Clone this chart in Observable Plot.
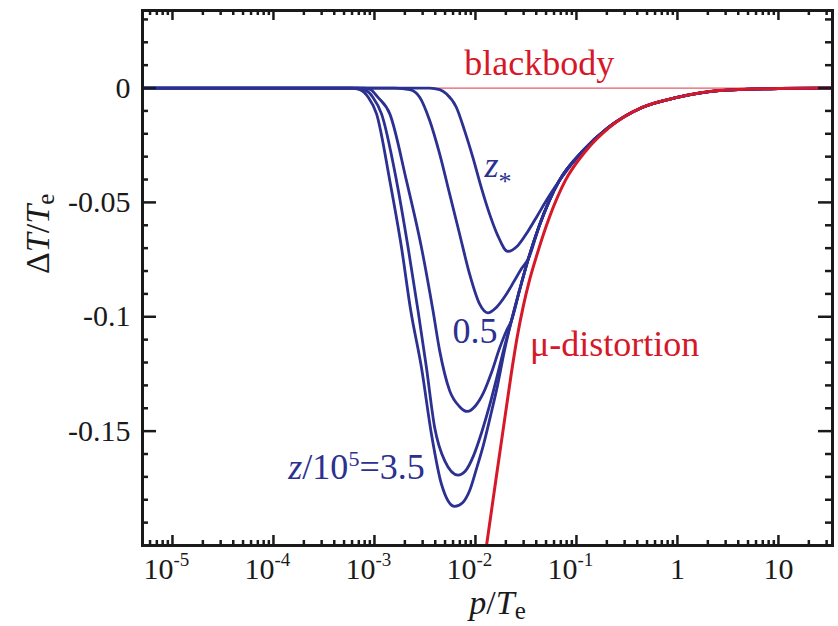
<!DOCTYPE html>
<html>
<head>
<meta charset="utf-8">
<script src="https://cdn.jsdelivr.net/npm/d3@7"></script>
<script src="https://cdn.jsdelivr.net/npm/@observablehq/plot@0.6"></script>
<style>
  html, body { margin: 0; padding: 0; background: #fff; }
  svg { display: block; }
  svg text { font-family: "Liberation Serif", "LiberationSerif", "Tinos", "Times New Roman", "Times", "Nimbus Roman", "Nimbus Roman No9 L", "FreeSerif", "DejaVu Serif", "Noto Serif", serif; }
</style>
</head>
<body>
<div id="chart"></div>
<script>
// ---------------- data ----------------
// x = p/Te, y = ΔT/Te
// deepest curve, z/10^5 = 3.5
const xCurveA = [5.05e-6, 6.0e-4, 7.18e-4, 8.67e-4, 1.049e-3, 1.419e-3, 1.851e-3, 2.287e-3, 2.917e-3, 3.661e-3, 4.596e-3, 6.219e-3, 7.458e-3, 8.746e-3, 1.025e-2, 1.202e-2, 1.410e-2, 1.653e-2, 1.937e-2, 2.272e-2, 2.724e-2, 3.344e-2, 4.293e-2, 5.388e-2, 6.762e-2, 0.1167, 0.2060, 0.4463, 0.9665, 2.569, 10.05, 34.3];
const yCurveA = [0, 0, -0.0007, -0.0040, -0.0113, -0.0405, -0.0696, -0.0973, -0.1221, -0.1511, -0.1730, -0.1829, -0.1813, -0.1761, -0.1664, -0.1559, -0.1433, -0.1301, -0.1148, -0.1017, -0.0886, -0.0746, -0.0601, -0.0492, -0.0405, -0.0273, -0.0173, -0.0085, -0.0042, -0.0011, -0.0002, 0];
// second curve
const xCurveB = [5.05e-6, 6.8e-4, 8.0e-4, 9.64e-4, 1.175e-3, 1.653e-3, 2.151e-3, 2.700e-3, 3.268e-3, 3.946e-3, 4.955e-3, 6.704e-3, 7.986e-3, 9.579e-3, 1.149e-2, 1.378e-2, 1.616e-2, 1.894e-2, 2.272e-2, 2.724e-2, 3.344e-2, 4.293e-2, 5.388e-2, 6.762e-2, 0.1167, 0.2060, 0.4463, 0.9665, 2.569, 10.05, 34.3];
const yCurveB = [0, 0, -0.0007, -0.0040, -0.0113, -0.0405, -0.0696, -0.0973, -0.1221, -0.1484, -0.1629, -0.1692, -0.1673, -0.1607, -0.1507, -0.1389, -0.1271, -0.1148, -0.1017, -0.0886, -0.0746, -0.0601, -0.0492, -0.0405, -0.0273, -0.0173, -0.0085, -0.0042, -0.0011, -0.0002, 0];
// third curve
const xCurveC = [5.05e-6, 8.0e-4, 9.21e-4, 1.080e-3, 1.419e-3, 2.074e-3, 2.917e-3, 3.797e-3, 4.421e-3, 5.549e-3, 6.966e-3, 8.301e-3, 1.002e-2, 1.202e-2, 1.442e-2, 1.729e-2, 2.028e-2, 2.272e-2, 2.724e-2, 3.344e-2, 4.293e-2, 5.388e-2, 6.762e-2, 0.1167, 0.2060, 0.4463, 0.9665, 2.569, 10.05, 34.3];
const yCurveC = [0, 0, -0.0007, -0.0040, -0.0113, -0.0405, -0.0696, -0.0973, -0.1148, -0.1323, -0.1393, -0.1414, -0.1389, -0.1332, -0.1244, -0.1139, -0.1061, -0.1017, -0.0886, -0.0746, -0.0601, -0.0492, -0.0405, -0.0273, -0.0173, -0.0085, -0.0042, -0.0011, -0.0002, 0];
// fourth curve, z/10^5 = 0.5
const xCurveD = [5.05e-6, 1.6e-3, 2.236e-3, 2.806e-3, 3.523e-3, 4.421e-3, 5.549e-3, 6.966e-3, 8.746e-3, 1.098e-2, 1.326e-2, 1.604e-2, 2.014e-2, 2.432e-2, 2.851e-2, 3.344e-2, 4.293e-2, 5.388e-2, 6.762e-2, 0.1167, 0.2060, 0.4463, 0.9665, 2.569, 10.05, 34.3];
const yCurveD = [0, 0, -0.0007, -0.0040, -0.0142, -0.0288, -0.0463, -0.0638, -0.0813, -0.0944, -0.0983, -0.0960, -0.0903, -0.0842, -0.0790, -0.0746, -0.0601, -0.0492, -0.0405, -0.0273, -0.0173, -0.0085, -0.0042, -0.0011, -0.0002, 0];
// shallowest curve, z*
const xCurveE = [5.05e-6, 3.523e-3, 4.421e-3, 5.149e-3, 6.464e-3, 7.806e-3, 9.425e-3, 1.141e-2, 1.378e-2, 1.664e-2, 2.089e-2, 2.621e-2, 3.292e-2, 4.102e-2, 5.033e-2, 6.176e-2, 6.762e-2, 0.1167, 0.2060, 0.4463, 0.9665, 2.569, 10.05, 34.3];
const yCurveE = [0, 0, -0.0007, -0.0025, -0.0084, -0.0186, -0.0303, -0.0434, -0.0550, -0.0645, -0.0714, -0.0689, -0.0628, -0.0558, -0.0492, -0.0431, -0.0405, -0.0273, -0.0173, -0.0085, -0.0042, -0.0011, -0.0002, 0];
// mu-distortion
const xMu = [0.01287, 0.01615, 0.01937, 0.02272, 0.02603, 0.02984, 0.03420, 0.04010, 0.05388, 0.0775, 0.1249, 0.2108, 0.4463, 0.9665, 2.569, 10.05, 34.3];
const yMu = [-0.2, -0.1695, -0.1454, -0.1244, -0.1083, -0.0951, -0.0842, -0.0737, -0.0566, -0.0405, -0.0273, -0.0173, -0.0085, -0.0042, -0.0011, -0.0002, 0];
// blackbody
const yBlackbody = [0];

// ---------------- ticks and labels ----------------
const xTickValues = [1e-5, 1e-4, 1e-3, 1e-2, 1e-1, 1, 10];
const xTickBase = ["10", "10", "10", "10", "10", "1", "10"];
const xTickExp = ["-5", "-4", "-3", "-2", "-1", "", ""];
const yTickValues = [0, -0.05, -0.1, -0.15];
const yTickLabels = ["0", "-0.05", "-0.1", "-0.15"];

const labelBlackbody = [{text: "blackbody", x: 4.29e-2, y: 0.0055}];
const labelMu = [{text: "μ-distortion", x: 0.2388, y: -0.1170}];
const labelHalf = [{text: "0.5", x: 9.9e-3, y: -0.1113}];
const labelZstar = [{text: "z*", x: 1.23e-2, y: -0.0391}];
const labelZ35 = [{text: "z/10^5=3.5", x: 3.144e-3, y: -0.1708}];
const xTitle = ["p/Te"];
const yTitle = ["ΔT/Te"];

// ---------------- drawing ----------------
const W = 838, H = 626;
const mL = 142, mR = 6, mT = 10, mB = 81;
const PW = W - mL - mR, PH = H - mT - mB;
const BLUE = "#2b3091", RED = "#d61828", INK = "#1a1a1a";
const SERIF = "Liberation Serif, Tinos, Times New Roman, DejaVu Serif, serif";

const rows = (xs, ys, name) => xs.map((x, i) => ({x, y: ys[i], name}));
const blueData = [
  ...rows(xCurveA, yCurveA, "A"), ...rows(xCurveB, yCurveB, "B"), ...rows(xCurveC, yCurveC, "C"),
  ...rows(xCurveD, yCurveD, "D"), ...rows(xCurveE, yCurveE, "E")
];
const muData = rows(xMu, yMu, "mu");

const xMinor = [];
for (let e = -6; e <= 1; e++) for (let k = 2; k <= 9; k++) {
  const v = k * Math.pow(10, e);
  if (v > 5.05e-6 && v < 34.3) xMinor.push(v);
}
const yMinor = d3.range(-19, 4).map(k => k / 100).filter(v => Math.abs(v * 20 - Math.round(v * 20)) > 1e-9);

const hasExp = (d, i) => xTickExp[i] !== "";
const noExp = (d, i) => xTickExp[i] === "";

const chart = Plot.plot({
  width: W, height: H,
  marginLeft: mL, marginRight: mR, marginTop: mT, marginBottom: mB,
  x: {type: "log", domain: [5.05e-6, 34.3], axis: null},
  y: {domain: [-0.2, 0.0339], axis: null},
  style: {background: "white", fontFamily: SERIF},
  marks: [
    Plot.ruleY(yBlackbody, {y: d => d, stroke: RED, strokeWidth: 1.3, strokeOpacity: 0.7}),
    Plot.line(blueData, {x: "x", y: "y", z: "name", stroke: BLUE, strokeWidth: 2.8, curve: "monotone-x", clip: true}),
    Plot.line(muData, {x: "x", y: "y", stroke: RED, strokeWidth: 3, curve: "monotone-x", clip: true}),
    // ticks (inward, mirrored)
    Plot.tickX(xTickValues, {x: d => d, insetTop: PH - 10, stroke: INK, strokeWidth: 2.5}),
    Plot.tickX(xTickValues, {x: d => d, insetBottom: PH - 10, stroke: INK, strokeWidth: 2.5}),
    Plot.tickX(xMinor, {x: d => d, insetTop: PH - 5, stroke: INK, strokeWidth: 2.5}),
    Plot.tickX(xMinor, {x: d => d, insetBottom: PH - 5, stroke: INK, strokeWidth: 2.5}),
    Plot.tickY(yTickValues, {y: d => d, insetRight: PW - 14, stroke: INK, strokeWidth: 2.5}),
    Plot.tickY(yTickValues, {y: d => d, insetLeft: PW - 14, stroke: INK, strokeWidth: 2.5}),
    Plot.tickY(yMinor, {y: d => d, insetRight: PW - 6, stroke: INK, strokeWidth: 2.5}),
    Plot.tickY(yMinor, {y: d => d, insetLeft: PW - 7, stroke: INK, strokeWidth: 2.5}),
    Plot.frame({stroke: INK, strokeWidth: 3}),
    // tick labels
    Plot.text(xTickValues, {x: d => d, text: (d, i) => xTickBase[i], filter: hasExp, frameAnchor: "bottom",
      textAnchor: "end", lineAnchor: "bottom", dx: 1, dy: 33, fontSize: 30, fontFamily: SERIF, fill: INK}),
    Plot.text(xTickValues, {x: d => d, text: (d, i) => xTickExp[i], filter: hasExp, frameAnchor: "bottom",
      textAnchor: "start", lineAnchor: "bottom", dx: 1, dy: 20, fontSize: 19, fontFamily: SERIF, fill: INK}),
    Plot.text(xTickValues, {x: d => d, text: (d, i) => xTickBase[i], filter: noExp, frameAnchor: "bottom",
      textAnchor: "middle", lineAnchor: "bottom", dy: 33, fontSize: 30, fontFamily: SERIF, fill: INK}),
    Plot.text(yTickValues, {y: d => d, text: (d, i) => yTickLabels[i], frameAnchor: "left",
      textAnchor: "end", dx: -12, fontSize: 30, fontFamily: SERIF, fill: INK}),
    // axis titles
    Plot.text(xTitle, {text: d => d, frameAnchor: "bottom", lineAnchor: "bottom", dx: 10, dy: 68,
      fontSize: 34, fontFamily: SERIF, fill: INK}),
    Plot.text(yTitle, {text: d => d, frameAnchor: "left", rotate: -90, lineAnchor: "bottom", dx: -94, dy: -4,
      fontSize: 34, fontFamily: SERIF, fill: INK}),
    // annotations
    Plot.text(labelBlackbody, {x: "x", y: "y", text: "text", lineAnchor: "bottom", textAnchor: "middle", fontSize: 36, fontFamily: SERIF, fill: RED}),
    Plot.text(labelMu, {x: "x", y: "y", text: "text", lineAnchor: "bottom", textAnchor: "middle", fontSize: 36, fontFamily: SERIF, fill: RED}),
    Plot.text(labelHalf, {x: "x", y: "y", text: "text", lineAnchor: "bottom", textAnchor: "middle", fontSize: 36, fontFamily: SERIF, fill: BLUE}),
    Plot.text(labelZstar, {x: "x", y: "y", text: "text", lineAnchor: "bottom", textAnchor: "start", fontSize: 36, fontFamily: SERIF, fill: BLUE}),
    Plot.text(labelZ35, {x: "x", y: "y", text: "text", lineAnchor: "bottom", textAnchor: "end", fontSize: 36, fontFamily: SERIF, fill: BLUE})
  ]
});

// rich text: italics, sub- and superscripts
const rich = {
  "z*": [{t: "z", it: 1}, {t: "*", size: 26, shift: 13}],
  "z/10^5=3.5": [{t: "z", it: 1}, {t: "/10"}, {t: "5", size: 22, shift: -13}, {t: "=3.5"}],
  "p/Te": [{t: "p", it: 1}, {t: "/"}, {t: "T", it: 1}, {t: "e", size: 25, shift: 5}],
  "ΔT/Te": [{t: "Δ"}, {t: "T", it: 1}, {t: "/"}, {t: "T", it: 1}, {t: "e", size: 25, shift: 5}]
};
chart.querySelectorAll("text").forEach(node => {
  const segs = rich[node.textContent];
  if (!segs) return;
  while (node.firstChild) node.removeChild(node.firstChild);
  let cur = 0;
  segs.forEach(s => {
    const ts = document.createElementNS("http://www.w3.org/2000/svg", "tspan");
    ts.textContent = s.t;
    if (s.it) ts.setAttribute("font-style", "italic");
    if (s.size) ts.setAttribute("font-size", s.size);
    const target = s.shift || 0;
    if (target !== cur) { ts.setAttribute("dy", target - cur); cur = target; }
    node.appendChild(ts);
  });
});

document.getElementById("chart").appendChild(chart);
</script>
</body>
</html>
